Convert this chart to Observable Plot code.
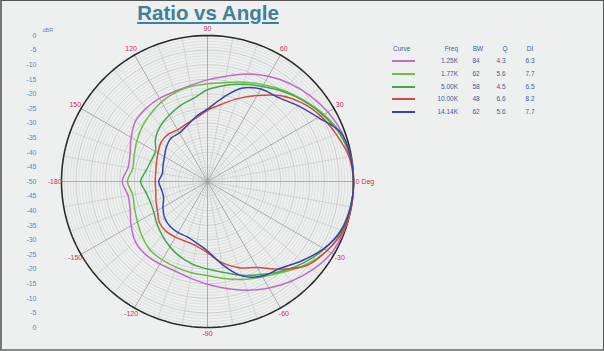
<!DOCTYPE html>
<html><head><meta charset="utf-8">
<script src="https://cdn.jsdelivr.net/npm/d3@7"></script>
<script src="https://cdn.jsdelivr.net/npm/@observablehq/plot@0.6"></script>
<style>
html,body{margin:0;padding:0;background:#eef0f0;}
#wrap{position:relative;width:604px;height:351px;overflow:hidden;background:#eef0f0;font-family:"Liberation Sans",Arial,sans-serif;}
#wrap svg{position:absolute;left:0;top:0;}
#title{position:absolute;left:108px;width:200px;top:3px;text-align:center;font-size:20.5px;line-height:20.5px;font-weight:bold;color:#3f7f9b;text-decoration:underline;text-decoration-thickness:2px;text-underline-offset:2px;}
#frame{position:absolute;left:0;top:0;width:604px;height:351px;box-sizing:border-box;border:1px solid #555;border-left:2px solid #777;border-bottom:2px solid #888;pointer-events:none;}
.lg{position:absolute;font-size:6.5px;line-height:8px;color:#3d5a98;white-space:nowrap;}
.sw{position:absolute;height:2px;width:23px;}
</style></head><body>
<div id="wrap"><div id="title">Ratio vs Angle</div><div id="legend"></div><div id="frame"></div></div>
<script>
// ---- data ----
const angles = [-180,-170,-160,-150,-140,-130,-120,-110,-100,-90,-80,-70,-60,-50,-40,-30,-20,-10,0,10,20,30,40,50,60,70,80,90,100,110,120,130,140,150,160,170];
const freqs = ["1.25K","1.77K","5.00K","10.00K","14.14K"];
const bw = ["84","62","58","48","62"];
const q = ["4.3","5.6","4.5","6.6","5.6"];
const di = ["6.3","7.7","6.5","8.2","7.7"];
const colors = ["#c26ac8","#6cbf44","#3fa84a","#d8493a","#3744ad"];
const s1250 = [-20.8,-22.4,-21.8,-19.8,-17.8,-17.2,-17.4,-17.4,-16.4,-14.8,-12.8,-10.4,-7.9,-5.4,-3.0,-1.0,-0.3,0,0,-0.2,-1.0,-2.4,-4.2,-6.2,-8.4,-10.8,-13.4,-15.2,-16.6,-17.2,-17.1,-17.3,-17.8,-19.8,-21.8,-22.4];
const s1770 = [-22.6,-24.0,-23.4,-22.3,-20.8,-19.4,-19.0,-18.7,-18.3,-17.8,-16.3,-14.3,-12.3,-9.5,-5.8,-2.7,-0.9,-0.2,0,-0.4,-1.6,-4.0,-6.8,-9.3,-11.7,-13.8,-15.6,-16.5,-17.0,-17.6,-18.5,-19.7,-20.8,-22.1,-23.3,-24.0];
const s5000 = [-27.1,-28.6,-29.2,-28.8,-27.4,-25.9,-24.2,-22.6,-21.2,-20.0,-18.4,-15.8,-13.2,-10.0,-6.8,-3.8,-1.4,-0.3,0,-0.5,-1.9,-4.4,-7.0,-9.8,-12.4,-14.6,-16.6,-18.6,-21.2,-22.4,-23.8,-25.0,-26.8,-29.4,-29.4,-28.6];
const s10000 = [-32.1,-32.0,-31.2,-30.2,-28.4,-27.8,-28.0,-28.2,-27.6,-25.6,-21.8,-18.6,-16.0,-10.8,-5.4,-2.7,-0.5,0,0,-0.8,-3.0,-5.2,-8.0,-11.6,-16.0,-19.8,-23.2,-25.6,-27.9,-29.0,-29.6,-28.9,-29.2,-30.4,-31.4,-32.0];
const s14140 = [-33.3,-34.0,-34.0,-32.4,-30.8,-30.0,-29.8,-29.8,-28.6,-26.2,-21.2,-15.6,-12.6,-11.2,-7.8,-4.0,-1.2,-0.2,0,-0.3,-1.3,-6.2,-9.6,-12.4,-13.4,-16.0,-21.0,-25.2,-27.4,-29.6,-30.8,-30.6,-31.6,-33.0,-33.8,-34.3];
const seriesValues = [s1250, s1770, s5000, s10000, s14140];
const dbTicks = [-50,-45,-40,-35,-30,-25,-20,-15,-10,-5,0,5,10,15,20,25,30,35,40,45,50];
const labelAngles = [30,60,90,120,150,180,210,240,270,300,330];
const labelTexts = ["30","60","90","120","150","-180","-150","-120","-90","-60","-30"];
const floorDb = -50;

// ---- helpers (polar -> cartesian in dB-radius units) ----
const rad = a => a * Math.PI / 180;
const px = (r, a) => r * Math.cos(rad(a));
const py = (r, a) => r * Math.sin(rad(a));

const rows = [];
freqs.forEach((f, i) => angles.forEach((a, j) => rows.push({freq: f, angle: a, db: seriesValues[i][j]})));

const ringStep = d3.range(0, 361, 2);
const rings = [];
for (let L = 1; L <= 50; L++) for (const a of ringStep) rings.push({L, a, major: L % 5 === 0});
const spokes = d3.range(0, 360, 10).map(a => ({a, major: a % 30 === 0}));

const chart = Plot.plot({
  width: 604, height: 351,
  marginLeft: 61, marginRight: 251, marginTop: 35, marginBottom: 24,
  x: {domain: [-50, 50], axis: null},
  y: {domain: [-50, 50], axis: null},
  color: {domain: freqs, range: colors},
  style: {background: "transparent", fontFamily: "Liberation Sans, Arial, sans-serif"},
  marks: [
    Plot.line(rings.filter(d => !d.major && d.L < 50), {x: d => px(d.L, d.a), y: d => py(d.L, d.a), z: "L", stroke: "#d3d5d5", strokeWidth: 0.6}),
    Plot.line(rings.filter(d => d.major && d.L < 50), {x: d => px(d.L, d.a), y: d => py(d.L, d.a), z: "L", stroke: "#bcbebe", strokeWidth: 0.7}),
    Plot.link(spokes.filter(d => !d.major), {x1: 0, y1: 0, x2: d => px(50, d.a), y2: d => py(50, d.a), stroke: "#c2c4c4", strokeWidth: 0.6}),
    Plot.link(spokes.filter(d => d.major), {x1: 0, y1: 0, x2: d => px(50, d.a), y2: d => py(50, d.a), stroke: "#9c9e9e", strokeWidth: 0.8}),
    Plot.line(rings.filter(d => d.L === 50), {x: d => px(d.L, d.a), y: d => py(d.L, d.a), stroke: "#2b2b2b", strokeWidth: 1.6}),
    Plot.line(rows, {x: d => px(d.db - floorDb, d.angle), y: d => py(d.db - floorDb, d.angle), z: "freq", stroke: "freq", strokeWidth: 1.5, curve: "catmull-rom-closed"}),
    Plot.text(labelAngles, {x: a => px(52.3, a), y: a => py(52.3, a), text: (a, i) => labelTexts[i], fill: "#d02c5c", fontSize: 7}),
    Plot.text(["0 Deg"], {x: () => px(50.7, 0), y: () => 0, text: d => d, textAnchor: "start", fill: "#d02c5c", fontSize: 7}),
    Plot.axisY({ticks: dbTicks, tickSize: 0, tickPadding: 25, fontSize: 7, fill: "#6585b8",
      tickFormat: d => String(Math.abs(d) + floorDb === 0 ? 0 : Math.abs(d) + floorDb)}),
    Plot.text(["dBR"], {frameAnchor: "top-left", dx: -19, dy: -7, fontSize: 5.5, fill: "#6585b8", text: d => d})
  ]
});
document.getElementById("wrap").insertBefore(chart, document.getElementById("title"));

// ---- legend ----
const lg = document.getElementById("legend");
function cell(txt, left, top, align, w) {
  const d = document.createElement("div");
  d.className = "lg"; d.textContent = txt;
  d.style.top = (top - 4) + "px";
  if (align === "right") { d.style.left = (left - w) + "px"; d.style.width = w + "px"; d.style.textAlign = "right"; }
  else if (align === "center") { d.style.left = (left - w / 2) + "px"; d.style.width = w + "px"; d.style.textAlign = "center"; }
  else d.style.left = left + "px";
  lg.appendChild(d);
}
const hdrY = 49, rowY = [61, 74, 86.5, 99, 111.5];
cell("Curve", 393, hdrY, "left");
cell("Freq", 458, hdrY, "right", 30);
cell("BW", 478, hdrY, "center", 20);
cell("Q", 505, hdrY, "center", 20);
cell("DI", 530, hdrY, "center", 20);
freqs.forEach((f, i) => {
  const s = document.createElement("div");
  s.className = "sw"; s.style.left = "392px"; s.style.top = Math.round(rowY[i] - 1) + "px"; s.style.background = colors[i];
  lg.appendChild(s);
  cell(f, 458, rowY[i], "right", 30);
  cell(bw[i], 476, rowY[i], "center", 20);
  cell(q[i], 501, rowY[i], "center", 20);
  cell(di[i], 530, rowY[i], "center", 20);
});
</script>
</body></html>
